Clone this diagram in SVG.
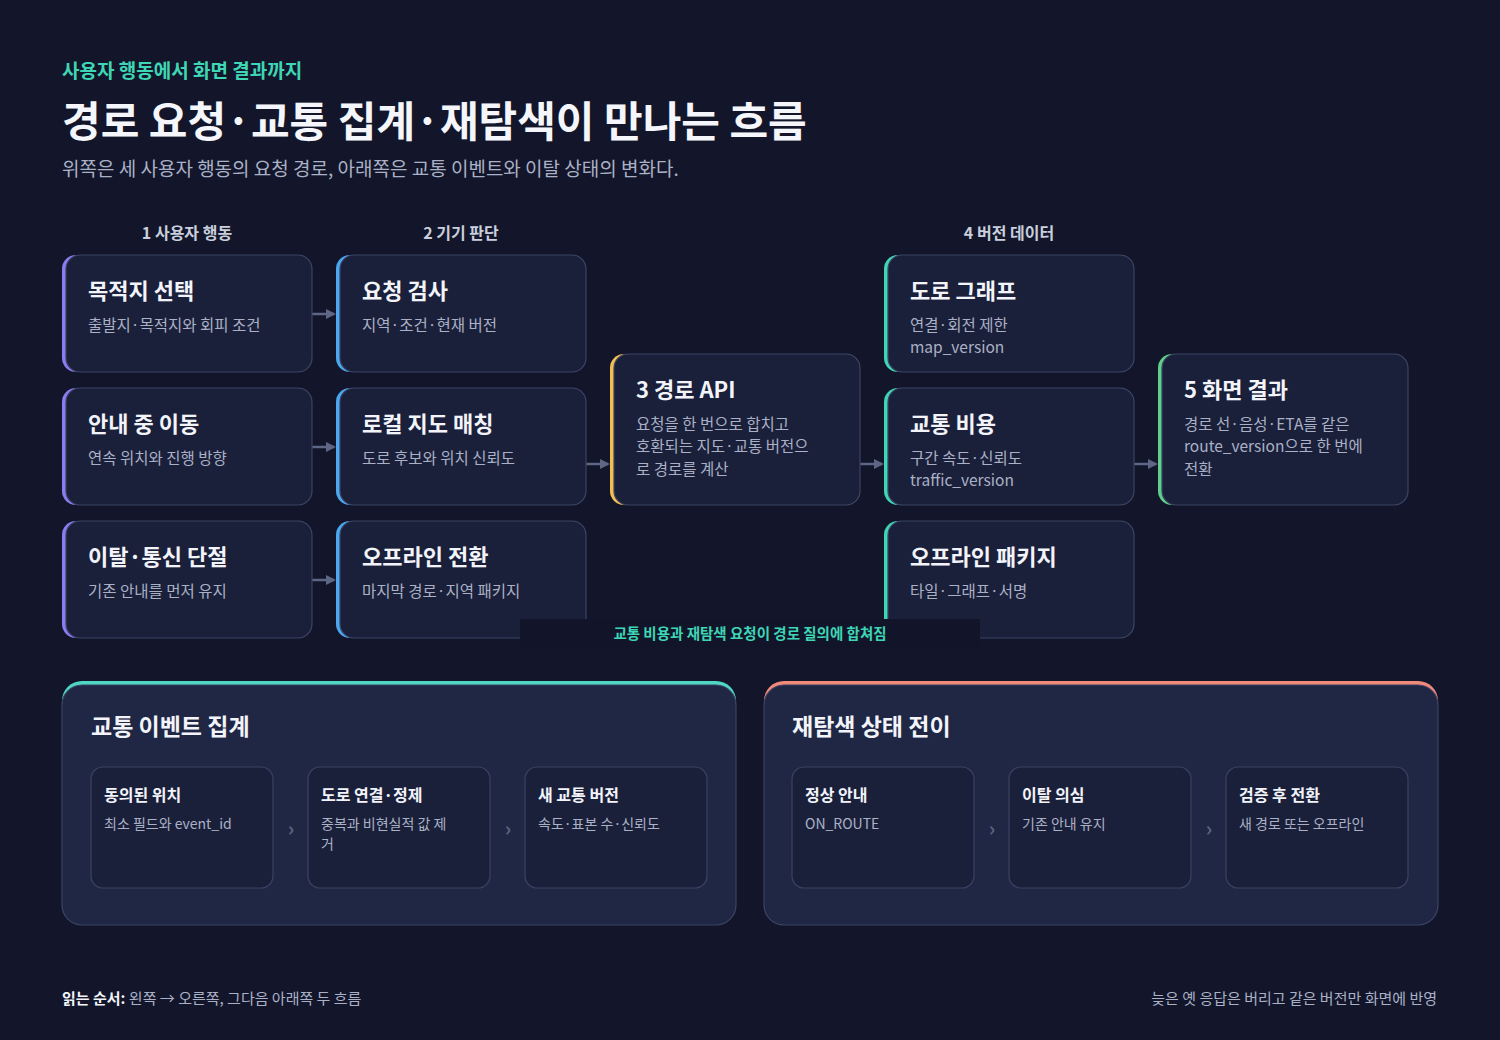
<svg xmlns="http://www.w3.org/2000/svg" width="1500" height="1040" viewBox="0 0 1500 1040">
<defs>
<style>
text{font-family:"Noto Sans CJK KR","Liberation Sans",sans-serif}
.card{fill:#1b203a;stroke:#3b4262;stroke-width:1.2}
.t{fill:#f2f4fa;font-size:22px;font-weight:700}
.s{fill:#aab1c6;font-size:15.5px}
.col{fill:#c9cfdd;font-size:16px;font-weight:700;text-anchor:middle}
.it{fill:#1b203a;stroke:#3b4262;stroke-width:1.2}
.it-t{fill:#f2f4fa;font-size:16px;font-weight:700}
.it-s{fill:#aab1c6;font-size:14px}
.chev{fill:#5a6280;font-size:20px;font-weight:700;text-anchor:middle}
.con{stroke:#5d6684;stroke-width:2.5;fill:none;marker-end:url(#ah)}
</style>
<marker id="ah" viewBox="0 0 10 10" refX="8" refY="5" markerWidth="4" markerHeight="4" orient="auto"><path d="M0,0L10,5L0,10z" fill="#5d6684"/></marker>
</defs>
<rect width="1500" height="1040" fill="#13162a"/>
<text x="62" y="78" fill="#3ed6b5" font-size="19" font-weight="700">사용자 행동에서 화면 결과까지</text>
<text x="62" y="137" fill="#f4f6fb" font-size="42" font-weight="700">경로 요청·교통 집계·재탐색이 만나는 흐름</text>
<text x="62" y="176" fill="#aab1c6" font-size="19">위쪽은 세 사용자 행동의 요청 경로, 아래쪽은 교통 이벤트와 이탈 상태의 변화다.</text>
<text class="col" x="187" y="239">1 사용자 행동</text>
<text class="col" x="461" y="239">2 기기 판단</text>
<text class="col" x="1009" y="239">4 버전 데이터</text>

<g id="connectors">
<path class="con" d="M312 314H334"/>
<path class="con" d="M312 447H334"/>
<path class="con" d="M312 580H334"/>
<path class="con" d="M586 464H608"/>
<path class="con" d="M860 464H882"/>
<path class="con" d="M1134 464H1156"/>
</g>

<g id="n1"><rect x="62" y="255" width="250" height="117" rx="14" fill="#8b7cf0"/><rect class="card" x="66" y="255" width="246" height="117" rx="14"/><text class="t" x="88" y="299">목적지 선택</text><text class="s" x="88" y="331">출발지·목적지와 회피 조건</text></g>
<g id="n2"><rect x="62" y="388" width="250" height="117" rx="14" fill="#8b7cf0"/><rect class="card" x="66" y="388" width="246" height="117" rx="14"/><text class="t" x="88" y="432">안내 중 이동</text><text class="s" x="88" y="464">연속 위치와 진행 방향</text></g>
<g id="n3"><rect x="62" y="521" width="250" height="117" rx="14" fill="#8b7cf0"/><rect class="card" x="66" y="521" width="246" height="117" rx="14"/><text class="t" x="88" y="565">이탈·통신 단절</text><text class="s" x="88" y="597">기존 안내를 먼저 유지</text></g>

<g id="n4"><rect x="336" y="255" width="250" height="117" rx="14" fill="#4aa8f0"/><rect class="card" x="340" y="255" width="246" height="117" rx="14"/><text class="t" x="362" y="299">요청 검사</text><text class="s" x="362" y="331">지역·조건·현재 버전</text></g>
<g id="n5"><rect x="336" y="388" width="250" height="117" rx="14" fill="#4aa8f0"/><rect class="card" x="340" y="388" width="246" height="117" rx="14"/><text class="t" x="362" y="432">로컬 지도 매칭</text><text class="s" x="362" y="464">도로 후보와 위치 신뢰도</text></g>
<g id="n6"><rect x="336" y="521" width="250" height="117" rx="14" fill="#4aa8f0"/><rect class="card" x="340" y="521" width="246" height="117" rx="14"/><text class="t" x="362" y="565">오프라인 전환</text><text class="s" x="362" y="597">마지막 경로·지역 패키지</text></g>

<g id="n7"><rect x="610" y="354" width="250" height="151" rx="14" fill="#f2bf52"/><rect class="card" x="614" y="354" width="246" height="151" rx="14"/><text class="t" x="636" y="398">3 경로 API</text><text class="s" x="636" y="430">요청을 한 번으로 합치고</text><text class="s" x="636" y="452">호환되는 지도·교통 버전으</text><text class="s" x="636" y="475">로 경로를 계산</text></g>

<g id="n8"><rect x="884" y="255" width="250" height="117" rx="14" fill="#3ed6b5"/><rect class="card" x="888" y="255" width="246" height="117" rx="14"/><text class="t" x="910" y="299">도로 그래프</text><text class="s" x="910" y="331">연결·회전 제한</text><text class="s" x="910" y="353">map_version</text></g>
<g id="n9"><rect x="884" y="388" width="250" height="117" rx="14" fill="#3ed6b5"/><rect class="card" x="888" y="388" width="246" height="117" rx="14"/><text class="t" x="910" y="432">교통 비용</text><text class="s" x="910" y="464">구간 속도·신뢰도</text><text class="s" x="910" y="486">traffic_version</text></g>
<g id="n10"><rect x="884" y="521" width="250" height="117" rx="14" fill="#3ed6b5"/><rect class="card" x="888" y="521" width="246" height="117" rx="14"/><text class="t" x="910" y="565">오프라인 패키지</text><text class="s" x="910" y="597">타일·그래프·서명</text></g>

<g id="n11"><rect x="1158" y="354" width="250" height="151" rx="14" fill="#5ed08a"/><rect class="card" x="1162" y="354" width="246" height="151" rx="14"/><text class="t" x="1184" y="398">5 화면 결과</text><text class="s" x="1184" y="430">경로 선·음성·ETA를 같은</text><text class="s" x="1184" y="452">route_version으로 한 번에</text><text class="s" x="1184" y="475">전환</text></g>

<g id="banner"><rect x="520" y="619" width="460" height="29" fill="#12152a"/><text x="750" y="639" fill="#3ed6b5" font-size="14.5" font-weight="700" text-anchor="middle">교통 비용과 재탐색 요청이 경로 질의에 합쳐짐</text></g>

<g id="p1">
<rect x="62" y="681" width="674" height="244" rx="20" fill="#4fd6c4"/>
<rect x="62" y="685" width="674" height="240" rx="20" fill="#1f2744" stroke="#3b4262" stroke-width="1.2"/>
<text x="91" y="735" fill="#f2f4fa" font-size="23" font-weight="700">교통 이벤트 집계</text>
<rect class="it" x="91" y="767" width="182" height="121" rx="12"/><text class="it-t" x="104" y="801">동의된 위치</text><text class="it-s" x="104" y="829">최소 필드와 event_id</text>
<text class="chev" x="291" y="836">›</text>
<rect class="it" x="308" y="767" width="182" height="121" rx="12"/><text class="it-t" x="321" y="801">도로 연결·정제</text><text class="it-s" x="321" y="829">중복과 비현실적 값 제</text><text class="it-s" x="321" y="849">거</text>
<text class="chev" x="508" y="836">›</text>
<rect class="it" x="525" y="767" width="182" height="121" rx="12"/><text class="it-t" x="538" y="801">새 교통 버전</text><text class="it-s" x="538" y="829">속도·표본 수·신뢰도</text>
</g>

<g id="p2">
<rect x="764" y="681" width="674" height="244" rx="20" fill="#f08a7a"/>
<rect x="764" y="685" width="674" height="240" rx="20" fill="#1f2744" stroke="#3b4262" stroke-width="1.2"/>
<text x="792" y="735" fill="#f2f4fa" font-size="23" font-weight="700">재탐색 상태 전이</text>
<rect class="it" x="792" y="767" width="182" height="121" rx="12"/><text class="it-t" x="805" y="801">정상 안내</text><text class="it-s" x="805" y="829">ON_ROUTE</text>
<text class="chev" x="992" y="836">›</text>
<rect class="it" x="1009" y="767" width="182" height="121" rx="12"/><text class="it-t" x="1022" y="801">이탈 의심</text><text class="it-s" x="1022" y="829">기존 안내 유지</text>
<text class="chev" x="1209" y="836">›</text>
<rect class="it" x="1226" y="767" width="182" height="121" rx="12"/><text class="it-t" x="1239" y="801">검증 후 전환</text><text class="it-s" x="1239" y="829">새 경로 또는 오프라인</text>
</g>

<text x="62" y="1004" fill="#aab1c6" font-size="15"><tspan fill="#f2f4fa" font-weight="700">읽는 순서:</tspan> 왼쪽 → 오른쪽, 그다음 아래쪽 두 흐름</text>
<text x="1437" y="1004" fill="#aab1c6" font-size="15" text-anchor="end">늦은 옛 응답은 버리고 같은 버전만 화면에 반영</text>
</svg>
